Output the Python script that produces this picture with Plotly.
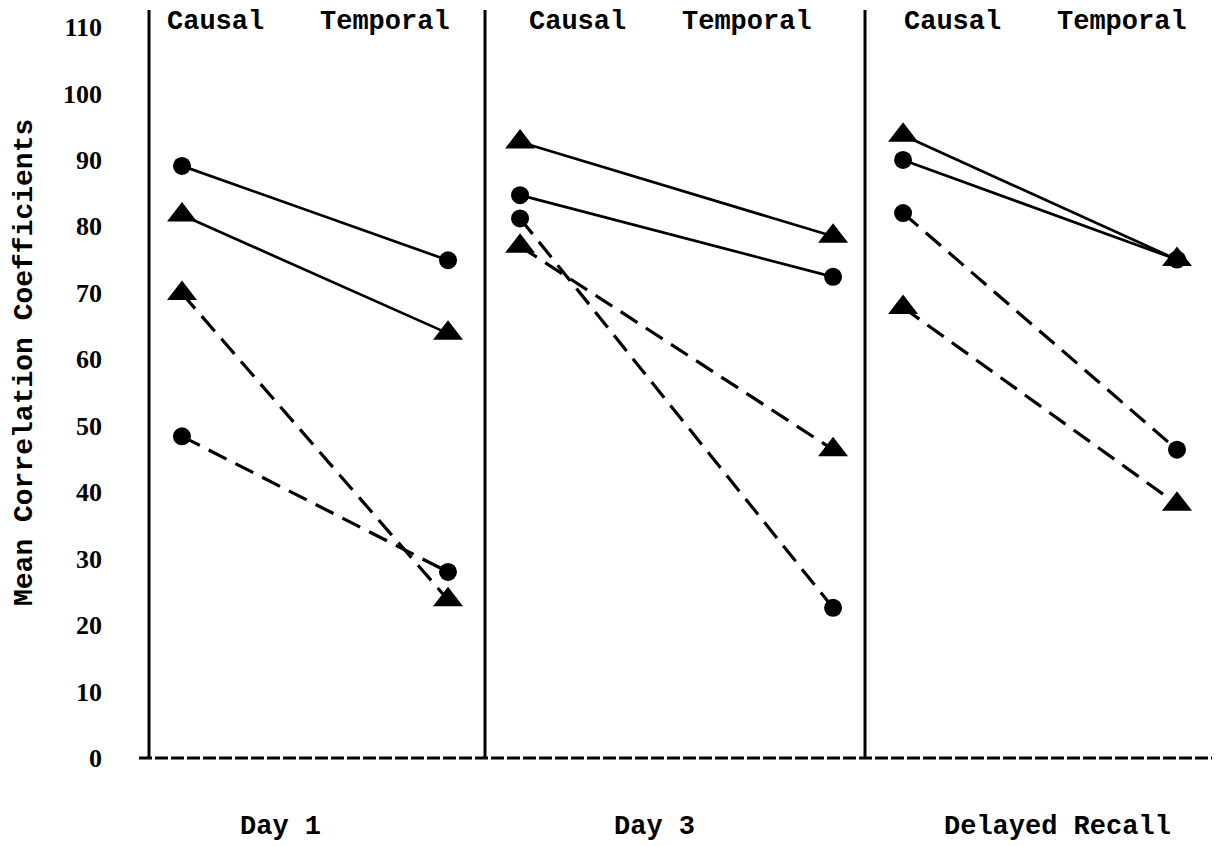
import plotly.graph_objects as go

# ---- data ----
panels = ["Day 1", "Day 3", "Delayed Recall"]
conditions = ["Causal", "Temporal"]
y_ticks = [0, 10, 20, 30, 40, 50, 60, 70, 80, 90, 100, 110]

circle_solid = [[89.1, 74.9], [84.7, 72.4], [90.0, 75.0]]
triangle_solid = [[81.7, 63.9], [92.7, 78.5], [93.7, 75.0]]
triangle_dashed = [[69.9, 23.8], [77.0, 46.4], [67.8, 38.2]]
circle_dashed = [[48.4, 28.0], [81.2, 22.6], [82.0, 46.4]]

series = [
    ("Circle, solid", circle_solid, "circle", "solid", 18),
    ("Triangle, solid", triangle_solid, "triangle-up", "solid", 26),
    ("Triangle, dashed", triangle_dashed, "triangle-up", "20px,10px", 26),
    ("Circle, dashed", circle_dashed, "circle", "20px,10px", 18),
]

# ---- layout geometry (reference-image pixels; page has an 8px body margin) ----
OFF = 8
W, H = 1220 - OFF, 846 - OFF
plot_left, plot_right = 149, 1220     # reference pixels
plot_top, plot_bottom = 27, 758
L = plot_left - OFF
T = plot_top - OFF
R = W - (plot_right - OFF)
B = H - (plot_bottom - OFF)
plot_w = plot_right - plot_left
plot_h = plot_bottom - plot_top
edges_px = [149, 485, 865, 1220]
pad = [(0.124, 0.139), (0.112, 0.102), (0.139, 0.157)]

def px_x(p):
    return (p - plot_left) / plot_w

def px_y(p):
    return (plot_bottom - p) / plot_h

axes = ["x", "x2", "x3"]
fig = go.Figure()

for name, vals, sym, dash, msize in series:
    for i, ax in enumerate(axes):
        fig.add_trace(go.Scatter(
            x=conditions, y=vals[i], xaxis=ax, yaxis="y",
            mode="lines+markers", name=name, showlegend=False,
            line=dict(color="black", width=3.2 if dash != "solid" else 2.7, dash=dash),
            marker=dict(symbol=sym, size=msize, color="black"),
        ))

layout = dict(
    width=W, height=H,
    margin=dict(l=L, r=R, t=T, b=B),
    paper_bgcolor="white", plot_bgcolor="white",
    showlegend=False,
    yaxis=dict(range=[0, 110], tickvals=y_ticks, showgrid=False, zeroline=False,
               showline=False, ticks="", anchor="x", ticklabelstandoff=46,
               tickfont=dict(family="Liberation Serif", size=26, color="black", weight="bold")),
)
for i, ax in enumerate(axes):
    key = "xaxis" if i == 0 else f"xaxis{i+1}"
    a, b = pad[i]
    layout[key] = dict(
        domain=[px_x(edges_px[i]), min(1, px_x(edges_px[i + 1]))],
        type="category", categoryarray=conditions, range=[-a, 1 + b],
        showticklabels=False, showgrid=False, zeroline=False, showline=False,
        ticks="", anchor="y",
    )
fig.update_layout(**layout)

# panel separators and dashed baseline
shapes = []
for p in edges_px[:3]:
    shapes.append(dict(type="line", xref="paper", yref="paper",
                       x0=px_x(p), x1=px_x(p), y0=0, y1=px_y(10),
                       line=dict(color="black", width=3)))
shapes.append(dict(type="line", xref="paper", yref="paper",
                   x0=px_x(139), x1=1, y0=0, y1=0,
                   line=dict(color="black", width=3, dash="13px,3px")))
fig.update_layout(shapes=shapes)

mono = dict(family="Liberation Mono", size=27, color="black", weight="bold")
header_px = [(215, 385), (577, 747), (952, 1122)]
annotations = []
for (cx, tx) in header_px:
    for lbl, x in zip(conditions, (cx, tx)):
        annotations.append(dict(text=lbl, x=px_x(x), y=px_y(22), xref="paper", yref="paper",
                                showarrow=False, font=mono, xanchor="center", yanchor="middle"))
for lbl, x in zip(panels, (280, 654, 1057)):
    annotations.append(dict(text=lbl, x=px_x(x), y=px_y(827), xref="paper", yref="paper",
                            showarrow=False, font=mono, xanchor="center", yanchor="middle"))
annotations.append(dict(text="Mean Correlation Coefficients", x=px_x(24), y=px_y(363),
                        xref="paper", yref="paper", showarrow=False, textangle=-90,
                        font=dict(family="Liberation Mono", size=28, color="black", weight="bold"),
                        xanchor="center", yanchor="middle"))
fig.update_layout(annotations=annotations)

fig.write_html("out.html")
